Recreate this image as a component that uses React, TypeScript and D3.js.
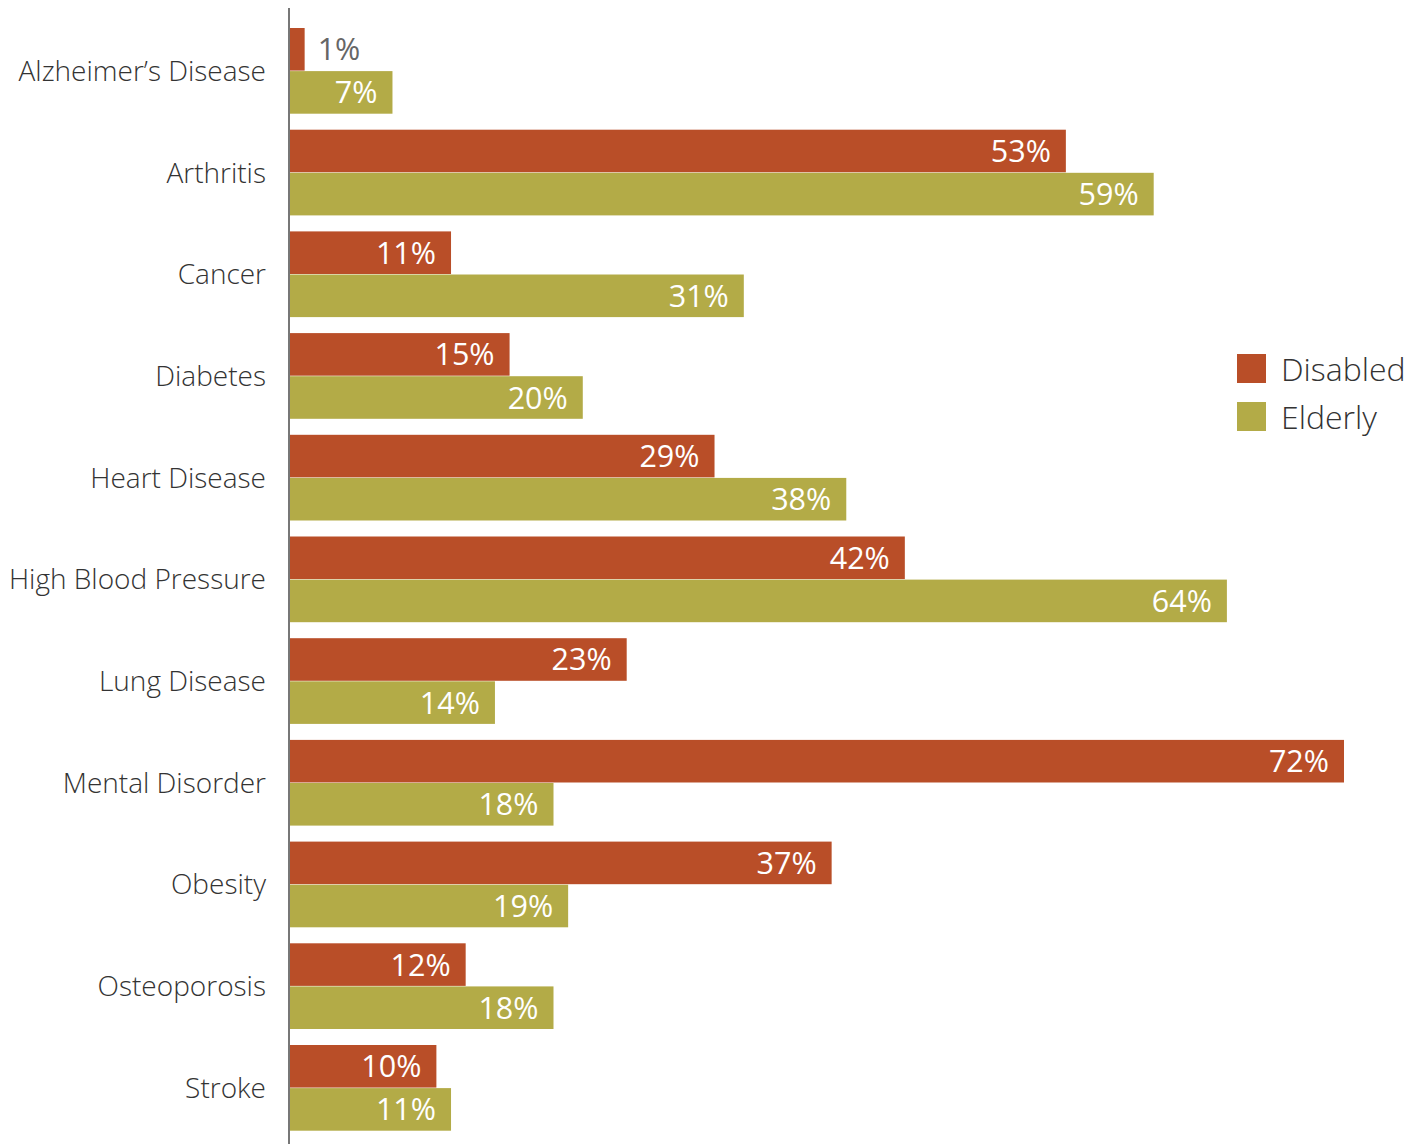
import React from "react";
import * as d3 from "d3";

const categories = [
  "Alzheimer’s Disease",
  "Arthritis",
  "Cancer",
  "Diabetes",
  "Heart Disease",
  "High Blood Pressure",
  "Lung Disease",
  "Mental Disorder",
  "Obesity",
  "Osteoporosis",
  "Stroke",
];
const disabled = [1, 53, 11, 15, 29, 42, 23, 72, 37, 12, 10];
const elderly = [7, 59, 31, 20, 38, 64, 14, 18, 19, 18, 11];
const seriesNames = ["Disabled", "Elderly"];
const seriesColors = ["#B94E28", "#B3AB47"];

const W = 1410;
const H = 1144;
const FONT = "'Open Sans', 'Segoe UI', sans-serif";

export default function App() {
  const x = d3.scaleLinear().domain([0, 72]).range([290, 1344]);
  const y = d3
    .scaleBand<string>()
    .domain(categories)
    .range([28, 1130.7])
    .paddingInner(16 / 101.7)
    .paddingOuter(0);
  const inner = d3.scaleBand<string>().domain(seriesNames).range([0, y.bandwidth()]).paddingInner(0.012);
  const series = [disabled, elderly];

  return (
    <svg
      width={W}
      height={H}
      style={{ position: "absolute", left: 0, top: 0, background: "#fff" }}
      fontFamily={FONT}
    >
      {categories.map((c, i) => {
        const y0 = y(c)!;
        return (
          <g key={c}>
            {series.map((s, j) => {
              const by = y0 + inner(seriesNames[j])!;
              const bh = inner.bandwidth();
              const v = s[i];
              const xe = x(v);
              const label = `${v}%`;
              const inside = xe - x(0) > 50;
              return (
                <g key={j}>
                  <rect x={x(0)} y={by} width={xe - x(0)} height={bh} fill={seriesColors[j]} />
                  <text
                    x={inside ? xe - 15 : xe + 13}
                    y={by + bh / 2 + 11}
                    textAnchor={inside ? "end" : "start"}
                    fontSize={30.5}
                    fontWeight={400}
                    fill={inside ? "#ffffff" : "#666"}
                  >
                    {label}
                  </text>
                </g>
              );
            })}
            <text
              x={266}
              y={y0 + y.bandwidth() / 2 + 10}
              textAnchor="end"
              fontSize={28}
              fontWeight={300}
              fill="#333"
            >
              {c}
            </text>
          </g>
        );
      })}
      <line x1={289} x2={289} y1={8} y2={H} stroke="#777" strokeWidth={2} />
      {seriesNames.map((n, j) => (
        <g key={n} transform={`translate(1237, ${354 + j * 48})`}>
          <rect width={29} height={29} fill={seriesColors[j]} />
          <text x={44} y={27} fontSize={32} fontWeight={300} fill="#333">
            {n}
          </text>
        </g>
      ))}
    </svg>
  );
}
